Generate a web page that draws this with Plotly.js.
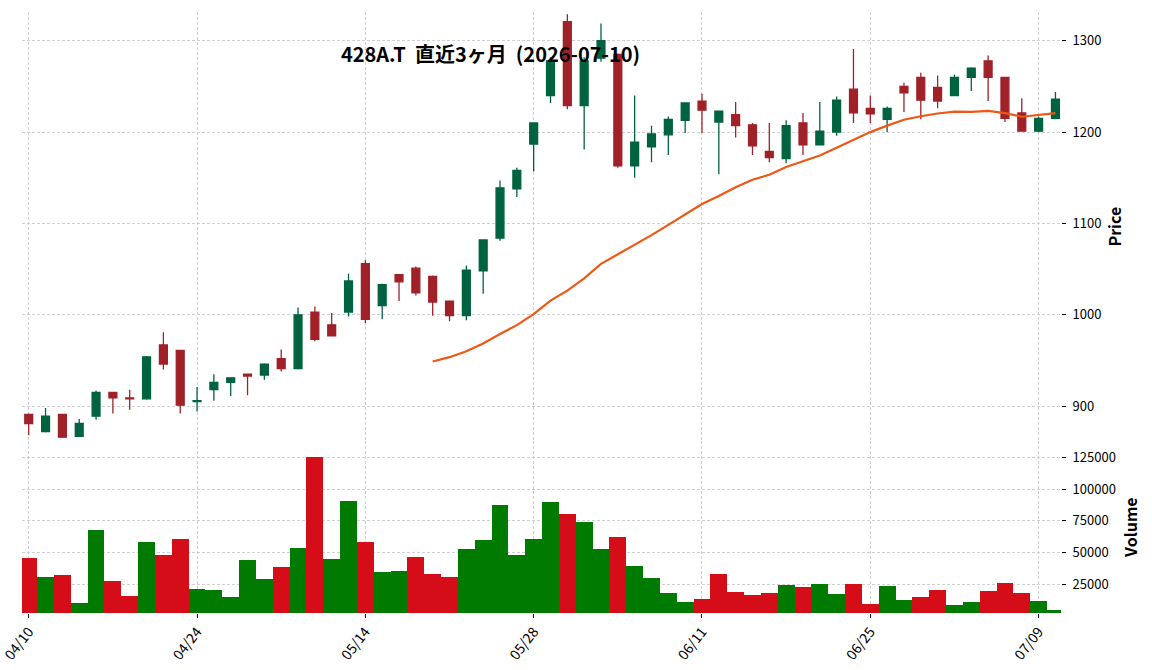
<!DOCTYPE html>
<html>
<head>
<meta charset="utf-8">
<script src="https://cdn.plot.ly/plotly-3.0.1.min.js"></script>
<style>html,body{margin:0;padding:0;background:#fff;}#chart{width:1152px;height:670px;}</style>
</head>
<body>
<div id="chart"></div>
<script>
const dates = ["04/10","04/13","04/14","04/15","04/16","04/17","04/20","04/21","04/22","04/23",
  "04/24","04/27","04/28","04/30","05/01","05/07","05/08","05/11","05/12","05/13",
  "05/14","05/15","05/18","05/19","05/20","05/21","05/22","05/25","05/26","05/27",
  "05/28","05/29","06/01","06/02","06/03","06/04","06/05","06/08","06/09","06/10",
  "06/11","06/12","06/15","06/16","06/17","06/18","06/19","06/22","06/23","06/24",
  "06/25","06/26","06/29","06/30","07/01","07/02","07/03","07/06","07/07","07/08",
  "07/09","07/10"];
const open = [891,872,891,867,889,915,909,908,967,961,
  905,918,926,935,934,952,941,1003,989,1003,
  1056,1010,1044,1051,1042,1015,999,1048,1084,1138,
  1187,1240,1321,1229,1281,1285,1163,1184,1197,1213,
  1234,1211,1219,1208,1179,1171,1210,1186,1200,1247,
  1226,1214,1250,1260,1249,1240,1260,1278,1260,1221,
  1201,1215];
const high = [892,898,891,886,917,915,918,955,981,961,
  921,935,931,935,947,962,1008,1009,1002,1045,
  1060,1034,1044,1053,1043,1015,1054,1082,1147,1161,
  1210,1282,1329,1282,1319,1286,1240,1207,1217,1232,
  1242,1223,1233,1210,1210,1213,1221,1233,1239,1291,
  1240,1228,1254,1265,1262,1263,1271,1284,1260,1237,
  1217,1244];
const low = [868,871,865,867,885,892,896,907,940,892,
  894,906,911,912,929,938,940,971,977,998,
  991,995,1015,1021,999,993,994,1023,1081,1129,
  1157,1232,1225,1181,1277,1161,1150,1167,1175,1199,
  1199,1154,1194,1175,1167,1166,1175,1186,1196,1210,
  1210,1200,1222,1214,1226,1240,1245,1234,1211,1201,
  1200,1214];
const close = [881,889,866,881,915,909,908,954,946,901,
  906,926,931,933,946,941,1000,973,977,1037,
  995,1033,1036,1024,1014,999,1049,1082,1139,1158,
  1210,1278,1229,1278,1300,1163,1189,1198,1214,1232,
  1224,1223,1207,1185,1172,1207,1186,1201,1235,1221,
  1220,1226,1243,1235,1234,1260,1270,1260,1215,1201,
  1215,1236];
const volume = [45600,30700,32300,10300,67600,27600,15800,58200,48000,60600,
  21300,20500,15000,44100,29100,38600,53500,125000,44800,90400,
  58200,34600,35400,46400,33100,30700,52700,59800,87300,48000,
  60600,89600,80200,73900,52700,62100,39300,29900,18100,11100,
  13500,33100,18900,16600,18100,24400,22900,25200,17400,25200,
  9500,23700,12700,15000,20500,8700,11100,19700,26000,18100,
  11900,4800];
const xTickLabels = ["04/10","04/24","05/14","05/28","06/11","06/25","07/09"];
const priceTicks = [900,1000,1100,1200,1300];
const volumeTicks = [25000,50000,75000,100000,125000];
const maPeriod = 25;

const UP = '#006340', DOWN = '#a02128';
const VUP = '#007a00', VDOWN = '#d50d18';
const FONT = '"Noto Sans CJK JP", "DejaVu Sans", sans-serif';

// moving average of closes (as drawn by the original chart)
const ma = close.map((c, i) => {
  if (i < maPeriod - 1) return null;
  let s = 0;
  for (let k = i - maPeriod + 1; k <= i; k++) s += close[k];
  return s / maPeriod;
});
// volume colour: close vs previous close
const volColors = close.map((c, i) => {
  const ref = i === 0 ? open[0] : close[i - 1];
  return c >= ref ? VUP : VDOWN;
});

const traces = [
  {
    type: 'candlestick', x: dates, open: open, high: high, low: low, close: close,
    xaxis: 'x', yaxis: 'y',
    increasing: {line: {color: UP, width: 1.3}, fillcolor: UP},
    decreasing: {line: {color: DOWN, width: 1.3}, fillcolor: DOWN},
    whiskerwidth: 0, hoverinfo: 'skip', showlegend: false
  },
  {
    type: 'scatter', mode: 'lines', x: dates, y: ma, xaxis: 'x', yaxis: 'y',
    line: {color: '#ef5714', width: 2.2}, hoverinfo: 'skip', showlegend: false
  },
  {
    type: 'bar', x: dates, y: volume, xaxis: 'x', yaxis: 'y2',
    marker: {color: volColors, line: {width: 0}}, width: 1.0,
    hoverinfo: 'skip', showlegend: false
  }
];

const gridStyle = {showgrid: true, gridcolor: '#c4c4c4', gridwidth: 0.8, griddash: '3px,2px'};

const layout = {
  width: 1152, height: 670,
  margin: {l: 22, r: 91, t: 12, b: 57, pad: 0},
  paper_bgcolor: '#fff', plot_bgcolor: '#fff',
  font: {family: FONT, size: 13, color: '#000'},
  showlegend: false,
  boxgap: 0.33,
  bargap: 0,
  title: {
    text: '428A.T  直近3ヶ月  (2026-07-10)',
    font: {family: FONT, size: 20, weight: 'bold', color: '#000'},
    xref: 'container', yref: 'container', x: 0.4258, y: 0.918,
    xanchor: 'center', yanchor: 'middle'
  },
  xaxis: Object.assign({}, gridStyle, {
    type: 'category', anchor: 'y2', domain: [0, 1],
    range: [-0.4, 61.33],
    tickmode: 'array', tickvals: xTickLabels, ticktext: xTickLabels,
    tickfont: {family: FONT, size: 14, color: '#000'},
    tickangle: -52, ticks: 'outside', ticklen: 4, tickcolor: '#000', tickwidth: 1,
    showline: false, zeroline: false, automargin: false,
    rangeslider: {visible: false}, fixedrange: true
  }),
  yaxis: Object.assign({}, gridStyle, {
    domain: [0.2857, 1], side: 'right', anchor: 'x',
    range: [861.5, 1331.5],
    tickmode: 'array', tickvals: priceTicks, ticktext: priceTicks.map(String),
    ticks: 'outside', ticklen: 4, tickcolor: '#000', ticklabelstandoff: 4,
    showline: false, zeroline: false, automargin: false,
    title: {text: 'Price', font: {family: FONT, size: 16, weight: 'bold'}, standoff: 9}
  }),
  yaxis2: Object.assign({}, gridStyle, {
    domain: [0, 0.2857], side: 'right', anchor: 'x',
    range: [2700, 137500],
    tickmode: 'array', tickvals: volumeTicks, ticktext: volumeTicks.map(String),
    ticks: 'outside', ticklen: 4, tickcolor: '#000', ticklabelstandoff: 4,
    showline: false, zeroline: false, automargin: false,
    title: {text: 'Volume', font: {family: FONT, size: 16, weight: 'bold'}, standoff: 10}
  })
};

Plotly.newPlot('chart', traces, layout, {staticPlot: true, displayModeBar: false});
</script>
</body>
</html>
